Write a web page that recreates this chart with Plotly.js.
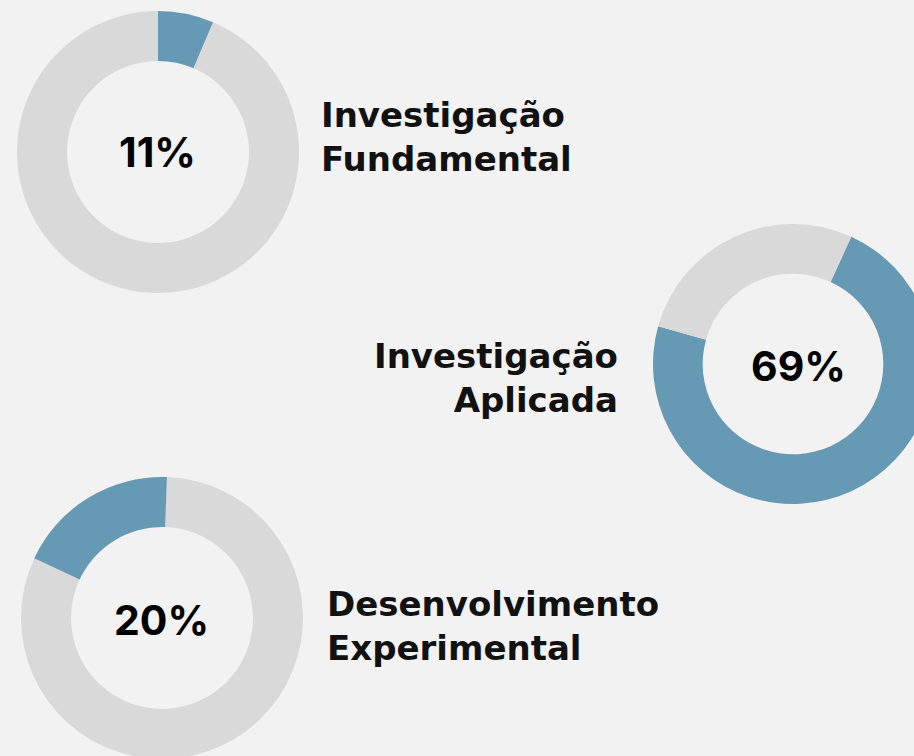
<!DOCTYPE html>
<html>
<head>
<meta charset="utf-8">
<script src="https://cdn.plot.ly/plotly-3.0.1.min.js"></script>
<style>
  html, body { margin: 0; padding: 0; background: #f2f2f2; overflow: hidden; }
  #chart { width: 960px; height: 780px; }
</style>
</head>
<body>
<div id="chart"></div>
<script>
// Data
const categories = ["Investigação<br>Fundamental", "Investigação<br>Aplicada", "Desenvolvimento<br>Experimental"];
const shownLabels = ["11%", "69%", "20%"];
const blueShare = [6.4, 72.5, 18.6];     // drawn blue arc (% of ring)
const greyShare = [93.6, 27.5, 81.4];    // drawn grey remainder
const startAngles = [0, 24.6, 2];        // degrees clockwise from 12 o'clock

const W = 960, H = 780;
const BLUE = "#6699b4", GREY = "#d9d9d9";

// layout geometry (pixels)
const centers = [[158, 152], [793, 364], [162, 618]];
const radii = [141, 140, 141];
const pctPos = [[157.5, 152], [798, 366], [161.7, 620]];
const labelPos = [[319, 137, "left"], [620, 378, "right"], [325, 626, "left"]];

const px = x => x / W;
const py = y => 1 - y / H;

const traces = [];
for (let i = 0; i < 3; i++) {
  const [cx, cy] = centers[i];
  const r = radii[i];
  const vals = i === 2 ? [greyShare[i], blueShare[i]] : [blueShare[i], greyShare[i]];
  const cols = i === 2 ? [GREY, BLUE] : [BLUE, GREY];
  traces.push({
    type: "pie",
    values: vals,
    labels: ["a" + i, "b" + i],
    sort: false,
    direction: "clockwise",
    rotation: startAngles[i],
    hole: 0.645,
    textinfo: "none",
    hoverinfo: "skip",
    showlegend: false,
    marker: { colors: cols, line: { width: 0 } },
    domain: { x: [px(cx - r), px(cx + r)], y: [py(cy + r), py(cy - r)] }
  });
}

const annotations = [];
for (let i = 0; i < 3; i++) {
  const [tx, ty] = pctPos[i];
  annotations.push({
    xref: "paper", yref: "paper",
    x: px(tx), y: py(ty), xanchor: "center", yanchor: "middle",
    text: shownLabels[i], showarrow: false,
    font: { family: "Inter", size: 41, color: "#000", weight: 700 }
  });
  const [lx, ly, al] = labelPos[i];
  annotations.push({
    xref: "paper", yref: "paper",
    x: px(lx), y: py(ly), xanchor: al, yanchor: "middle", align: al,
    text: categories[i], showarrow: false,
    font: { family: "DejaVu Sans", size: 34, color: "#111", weight: 700 }
  });
}

Plotly.newPlot("chart", traces, {
  width: W, height: H,
  margin: { l: 0, r: 0, t: 0, b: 0 },
  paper_bgcolor: "#f2f2f2",
  plot_bgcolor: "#f2f2f2",
  annotations: annotations
}, { staticPlot: true, displayModeBar: false });
</script>
</body>
</html>
